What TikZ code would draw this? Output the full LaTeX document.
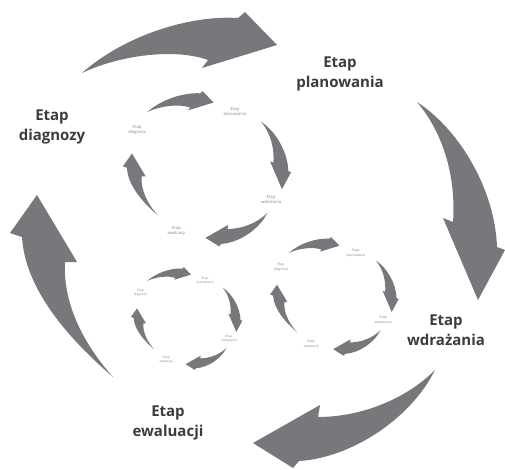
\documentclass[tikz,border=0pt]{standalone}
\usepackage{fontspec}
\setmainfont{Open Sans}
\definecolor{arrowgray}{HTML}{77787B}
\definecolor{textdark}{HTML}{3C3C3E}
\definecolor{textlight}{HTML}{8A8A8C}
\tikzset{
  arr/.style={fill=arrowgray},
  lbl/.style={align=center, inner sep=0pt, text=textdark,
              font=\bfseries\fontsize{15}{20}\selectfont},
}
\newcommand{\cyclediag}[1]{%
  % top arrow
  \fill[arr] (82,73) .. controls (125,35) and (190,15) .. (238,18) -- (245,12) -- (277,45)
     -- (202,68) -- (208,60) .. controls (175,48) and (120,55) .. (82,73);
  % right arrow
  \fill[arr] (417,102) .. controls (460,130) and (495,190) .. (497,247) -- (505,250) -- (478,300)
     -- (443,218) -- (453,222) .. controls (456,180) and (445,135) .. (417,102);
  % bottom arrow
  \fill[arr] (435,370) .. controls (410,420) and (350,458) .. (299,461) -- (293,468) -- (253,443)
     -- (320,405) -- (318,417) .. controls (360,417) and (405,400) .. (435,370);
  % left arrow
  \fill[arr] (113,377) .. controls (70,340) and (25,290) .. (22,237) -- (10,233) -- (37,195)
     -- (77,262) -- (65,262) .. controls (63,300) and (80,340) .. (113,377);
  \node[lbl] (#1pl) at (340,74) {Etap\\planowania};
  \node[lbl] (#1di) at (52,127) {Etap\\diagnozy};
  \node[lbl] (#1wd) at (446,330) {Etap\\wdrażania};
  \node[lbl] (#1ew) at (168,423) {Etap\\ewaluacji};
}
\begin{document}
\begin{tikzpicture}[x=1pt,y=-1pt]
  \useasboundingbox (0,0) rectangle (505,470);
  \fill[white] (0,0) rectangle (505,470);
  \cyclediag{big}
  \begin{scope}[shift={(119.4,87.2)},scale=0.34,
      lbl/.append style={text=textlight,font=\fontsize{4.2}{5.2}\selectfont}]
    \cyclediag{a}
  \end{scope}
  \begin{scope}[shift={(267.4,234)},scale=0.26,
      lbl/.append style={text=textlight,font=\fontsize{3.5}{4.4}\selectfont}]
    \cyclediag{b}
  \end{scope}
  \begin{scope}[shift={(128.7,264.5)},scale=0.225,
      lbl/.append style={text=textlight,font=\fontsize{3.2}{4}\selectfont}]
    \cyclediag{c}
  \end{scope}
\end{tikzpicture}
\end{document}
